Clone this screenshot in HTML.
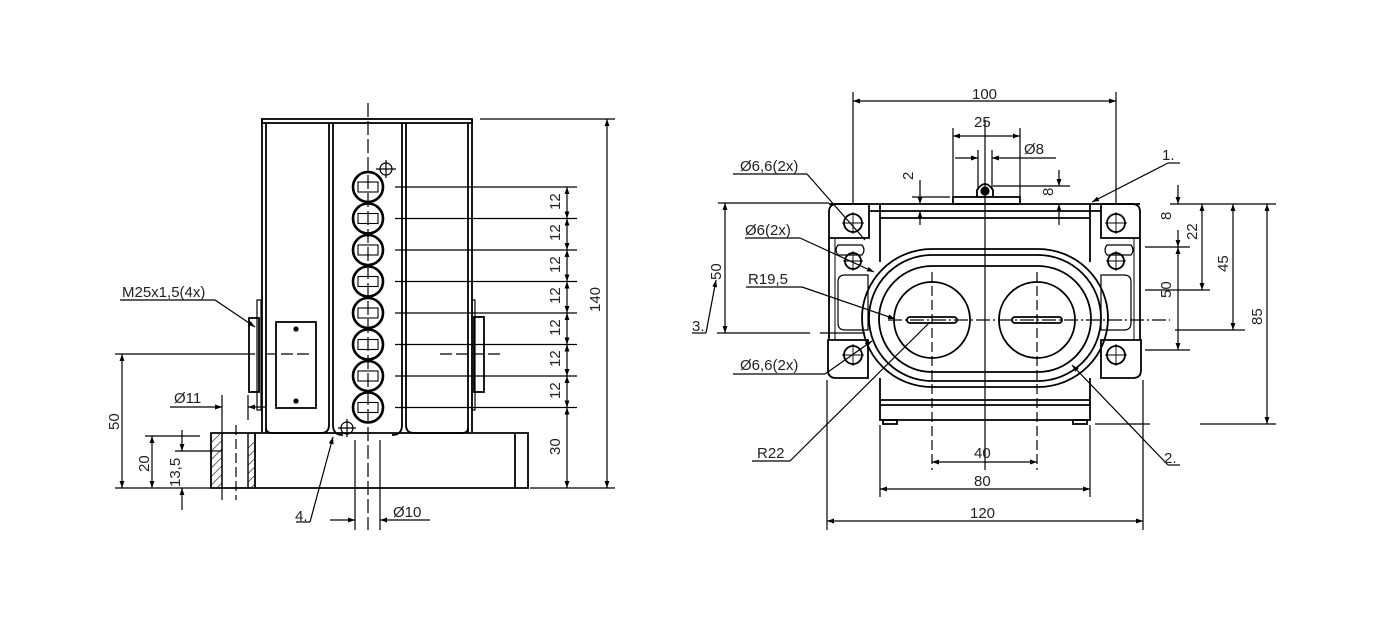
<!DOCTYPE html>
<html><head><meta charset="utf-8"><style>
html,body{margin:0;padding:0;background:#fff}
svg{display:block}
text{font-family:"Liberation Sans","DejaVu Sans",sans-serif;font-size:15px;fill:#222}
</style></head><body>
<svg width="1380" height="631" viewBox="0 0 1380 631" xmlns="http://www.w3.org/2000/svg">
<defs>
<marker id="a" viewBox="0 0 10 10" refX="10" refY="5" markerWidth="9" markerHeight="7" orient="auto-start-reverse" markerUnits="userSpaceOnUse"><path d="M0,1.5 L10,5 L0,8.5z" fill="#000"/></marker>
<pattern id="h" width="6" height="6" patternUnits="userSpaceOnUse" patternTransform="rotate(45)"><line x1="0" y1="0" x2="0" y2="6" stroke="#000" stroke-width="1.2"/></pattern>
</defs>
<g fill="none" stroke="#000" stroke-width="1.2">

<!-- ============ LEFT VIEW ============ -->
<g stroke-width="1.8">
<rect x="262" y="119" width="210" height="4"/>
<line x1="262" y1="119" x2="262" y2="432"/><line x1="472" y1="119" x2="472" y2="432"/>
<line x1="266" y1="123" x2="266" y2="432"/><line x1="468" y1="123" x2="468" y2="432"/>
<line x1="329" y1="123" x2="329" y2="425"/><line x1="333" y1="123" x2="333" y2="425"/>
<line x1="402" y1="123" x2="402" y2="425"/><line x1="406" y1="123" x2="406" y2="425"/>
<path d="M329 425 Q329 433 321 433 L272 433 Q266 433 266 428"/>
<path d="M406 425 Q406 433 414 433 L462 433 Q468 433 468 428"/>
<path d="M333 425 Q333 435 343 435"/>
<path d="M402 425 Q402 435 392 435"/>
<path d="M211 433 L528 433 L528 488 L211 488 Z"/>
<line x1="515" y1="433" x2="515" y2="488"/>
<line x1="255" y1="433" x2="255" y2="488"/>
</g>
<rect x="212" y="434" width="10" height="53" fill="url(#h)" stroke="none"/>
<rect x="248" y="440" width="6" height="47" fill="url(#h)" stroke="none"/>
<line x1="222" y1="433" x2="222" y2="488" stroke-width="1.4"/>
<line x1="248" y1="433" x2="248" y2="488" stroke-width="1.4"/>
<line x1="211" y1="451" x2="222" y2="451"/>
<rect x="249" y="318" width="10" height="74" stroke-width="1.8"/>
<rect x="257" y="300" width="4" height="110" stroke-width="1.2"/>
<rect x="474" y="317" width="10" height="75" stroke-width="1.8"/>
<rect x="472" y="300" width="3" height="110" stroke-width="1.2"/>
<rect x="276" y="322" width="40" height="86" stroke-width="1.8"/>
<circle cx="296" cy="329" r="2" fill="#000"/><circle cx="296" cy="401" r="2" fill="#000"/>
<line x1="115" y1="354" x2="255" y2="354"/>
<line x1="265" y1="354" x2="310" y2="354" stroke-dasharray="12,4"/>
<line x1="440" y1="354" x2="500" y2="354" stroke-dasharray="12,4"/>
<line x1="368" y1="103" x2="368" y2="530" stroke-dasharray="14,4"/>
<g stroke-width="2.6">
<circle cx="368" cy="187" r="15"/><circle cx="368" cy="218.5" r="15"/><circle cx="368" cy="250" r="15"/><circle cx="368" cy="281.5" r="15"/>
<circle cx="368" cy="313" r="15"/><circle cx="368" cy="344.5" r="15"/><circle cx="368" cy="376" r="15"/><circle cx="368" cy="407.5" r="15"/>
</g>
<g stroke-width="1.1">
<rect x="358" y="182" width="20" height="10"/><rect x="358" y="213.5" width="20" height="10"/><rect x="358" y="245" width="20" height="10"/><rect x="358" y="276.5" width="20" height="10"/>
<rect x="358" y="308" width="20" height="10"/><rect x="358" y="339.5" width="20" height="10"/><rect x="358" y="371" width="20" height="10"/><rect x="358" y="402.5" width="20" height="10"/>
</g>
<circle cx="386" cy="169" r="6"/><line x1="376" y1="169" x2="396" y2="169"/><line x1="386" y1="160" x2="386" y2="178"/>
<circle cx="347" cy="428" r="6"/><line x1="338" y1="428" x2="356" y2="428"/><line x1="347" y1="419" x2="347" y2="437"/>
<g>
<line x1="395" y1="187" x2="577" y2="187"/><line x1="395" y1="218.5" x2="577" y2="218.5"/><line x1="395" y1="250" x2="577" y2="250"/><line x1="395" y1="281.5" x2="577" y2="281.5"/>
<line x1="395" y1="313" x2="577" y2="313"/><line x1="395" y1="344.5" x2="577" y2="344.5"/><line x1="395" y1="376" x2="577" y2="376"/><line x1="395" y1="407.5" x2="577" y2="407.5"/>
<line x1="530" y1="488" x2="615" y2="488"/><line x1="480" y1="119" x2="615" y2="119"/>
<line x1="567" y1="187" x2="567" y2="218.5" marker-start="url(#a)" marker-end="url(#a)"/>
<line x1="567" y1="218.5" x2="567" y2="250" marker-start="url(#a)" marker-end="url(#a)"/>
<line x1="567" y1="250" x2="567" y2="281.5" marker-start="url(#a)" marker-end="url(#a)"/>
<line x1="567" y1="281.5" x2="567" y2="313" marker-start="url(#a)" marker-end="url(#a)"/>
<line x1="567" y1="313" x2="567" y2="344.5" marker-start="url(#a)" marker-end="url(#a)"/>
<line x1="567" y1="344.5" x2="567" y2="376" marker-start="url(#a)" marker-end="url(#a)"/>
<line x1="567" y1="376" x2="567" y2="407.5" marker-start="url(#a)" marker-end="url(#a)"/>
<line x1="567" y1="407.5" x2="567" y2="488" marker-start="url(#a)" marker-end="url(#a)"/>
<line x1="607" y1="119" x2="607" y2="488" marker-start="url(#a)" marker-end="url(#a)"/>
<line x1="115" y1="488" x2="210" y2="488"/>
<line x1="122" y1="354" x2="122" y2="488" marker-start="url(#a)" marker-end="url(#a)"/>
<line x1="145" y1="436" x2="200" y2="436"/>
<line x1="152" y1="436" x2="152" y2="488" marker-start="url(#a)" marker-end="url(#a)"/>
<line x1="175" y1="451" x2="211" y2="451"/>
<line x1="182" y1="430" x2="182" y2="451" marker-end="url(#a)"/>
<line x1="182" y1="510" x2="182" y2="488" marker-end="url(#a)"/>
<line x1="222" y1="395" x2="222" y2="500"/><line x1="248" y1="395" x2="248" y2="420"/>
<line x1="236" y1="425" x2="236" y2="500" stroke-dasharray="10,4"/>
<line x1="170" y1="407" x2="222" y2="407" marker-end="url(#a)"/>
<line x1="265" y1="407" x2="248" y2="407" marker-end="url(#a)"/>
<line x1="120" y1="300" x2="215" y2="300"/><line x1="215" y1="300" x2="255" y2="327" marker-end="url(#a)"/>
<line x1="355" y1="440" x2="355" y2="530"/><line x1="380" y1="440" x2="380" y2="530"/>
<line x1="330" y1="520" x2="355" y2="520" marker-end="url(#a)"/>
<line x1="430" y1="520" x2="380" y2="520" marker-end="url(#a)"/>
<line x1="296" y1="522" x2="310" y2="522"/><line x1="310" y1="522" x2="333" y2="437" marker-end="url(#a)"/>
</g>
</g>
<g>
<text transform="translate(560,210) rotate(-90)">12</text>
<text transform="translate(560,241) rotate(-90)">12</text>
<text transform="translate(560,273) rotate(-90)">12</text>
<text transform="translate(560,304) rotate(-90)">12</text>
<text transform="translate(560,336) rotate(-90)">12</text>
<text transform="translate(560,367) rotate(-90)">12</text>
<text transform="translate(560,399) rotate(-90)">12</text>
<text transform="translate(560,455) rotate(-90)">30</text>
<text transform="translate(600,312) rotate(-90)">140</text>
<text transform="translate(119,430) rotate(-90)">50</text>
<text transform="translate(149,472) rotate(-90)">20</text>
<text transform="translate(180,487) rotate(-90)">13,5</text>
<text x="122" y="297">M25x1,5(4x)</text>
<text x="174" y="403">Ø11</text>
<text x="295" y="521">4.</text>
<text x="393" y="517">Ø10</text>
</g>

<!-- ============ RIGHT VIEW ============ -->
<g fill="none" stroke="#000" stroke-width="1.2">
<g stroke-width="1.8">
<line x1="829" y1="204" x2="1140" y2="204"/>
<path d="M869 204 L837 204 Q829 204 829 212 L829 238 L869 238 Z"/>
<path d="M1101 204 L1132 204 Q1140 204 1140 212 L1140 238 L1101 238 Z"/>
<path d="M868 340 L828 340 L828 370 Q828 378 836 378 L868 378 Z"/>
<path d="M1101 340 L1141 340 L1141 370 Q1141 378 1133 378 L1101 378 Z"/>
<line x1="829" y1="238" x2="829" y2="340"/><line x1="1140" y1="238" x2="1140" y2="340"/>
<line x1="835" y1="238" x2="835" y2="340" stroke-width="1"/><line x1="1134" y1="238" x2="1134" y2="340" stroke-width="1"/>
<line x1="880" y1="204" x2="880" y2="262"/><line x1="1090" y1="204" x2="1090" y2="262"/>
<line x1="869" y1="211" x2="1101" y2="211"/><line x1="880" y1="218" x2="1090" y2="218"/>
<path d="M932 249 L1038 249 A70 69 0 0 1 1038 387 L932 387 A70 69 0 0 1 932 249 Z"/>
<path d="M932 255 L1038 255 A63 63 0 0 1 1038 381 L932 381 A63 63 0 0 1 932 255 Z"/>
<path d="M932 266 L1038 266 A53 53 0 0 1 1038 372 L932 372 A53 53 0 0 1 932 266 Z"/>
<circle cx="932" cy="320" r="38"/><circle cx="1037" cy="320" r="38"/>
<rect x="907" y="317" width="50" height="6" rx="3"/><rect x="1012" y="317" width="50" height="6" rx="3"/>
<path d="M880 378 L880 420 L1090 420 L1090 378"/>
<line x1="880" y1="400" x2="1090" y2="400"/><line x1="880" y1="405" x2="1090" y2="405"/>
<rect x="883" y="420" width="14" height="4"/><rect x="1073" y="420" width="14" height="4"/>
<rect x="953" y="197" width="67" height="7"/>
<path d="M977 197 L977 190 Q985 178 993 190 L993 197"/>
</g>
<circle cx="985" cy="191" r="4" fill="#000"/>
<path d="M838 245 L862 245 Q866 250 862 255 L838 255 Q834 250 838 245Z"/>
<path d="M1107 245 L1131 245 Q1135 250 1131 255 L1107 255 Q1103 250 1107 245Z"/>
<path d="M845 275 L868 275 L868 330 L845 330 Q838 330 838 323 L838 282 Q838 275 845 275Z"/>
<path d="M1124 275 L1101 275 L1101 330 L1124 330 Q1131 330 1131 323 L1131 282 Q1131 275 1124 275Z"/>
<g stroke-width="1.8">
<circle cx="853" cy="223" r="9"/><circle cx="853" cy="261" r="8"/><circle cx="853" cy="355" r="9"/>
<circle cx="1116" cy="223" r="9"/><circle cx="1116" cy="261" r="8"/><circle cx="1116" cy="355" r="9"/>
</g>
<g stroke-width="0.9">
<line x1="842" y1="223" x2="864" y2="223"/><line x1="853" y1="212" x2="853" y2="234"/>
<line x1="843" y1="261" x2="863" y2="261"/><line x1="853" y1="251" x2="853" y2="271"/>
<line x1="842" y1="355" x2="864" y2="355"/><line x1="853" y1="344" x2="853" y2="366"/>
<line x1="1105" y1="223" x2="1127" y2="223"/><line x1="1116" y1="212" x2="1116" y2="234"/>
<line x1="1106" y1="261" x2="1126" y2="261"/><line x1="1116" y1="251" x2="1116" y2="271"/>
<line x1="1105" y1="355" x2="1127" y2="355"/><line x1="1116" y1="344" x2="1116" y2="366"/>
</g>
<line x1="985" y1="120" x2="985" y2="470"/>
<line x1="932" y1="272" x2="932" y2="470" stroke-dasharray="10,4"/>
<line x1="1037" y1="272" x2="1037" y2="470" stroke-dasharray="10,4"/>
<line x1="888" y1="320" x2="1170" y2="320" stroke-dasharray="14,3,2,3"/>
<line x1="853" y1="92" x2="853" y2="204"/><line x1="1116" y1="92" x2="1116" y2="204"/>
<line x1="853" y1="101" x2="1116" y2="101" marker-start="url(#a)" marker-end="url(#a)"/>
<line x1="953" y1="128" x2="953" y2="197"/><line x1="1020" y1="128" x2="1020" y2="197"/>
<line x1="953" y1="136" x2="1020" y2="136" marker-start="url(#a)" marker-end="url(#a)"/>
<line x1="978" y1="150" x2="978" y2="190"/><line x1="992" y1="150" x2="992" y2="190"/>
<line x1="955" y1="158" x2="978" y2="158" marker-end="url(#a)"/>
<line x1="1056" y1="158" x2="992" y2="158" marker-end="url(#a)"/>
<line x1="993" y1="186" x2="1070" y2="186"/>
<line x1="1059" y1="170" x2="1059" y2="186" marker-end="url(#a)"/>
<line x1="1059" y1="225" x2="1059" y2="204" marker-end="url(#a)"/>
<line x1="912" y1="197" x2="950" y2="197"/>
<line x1="920" y1="180" x2="920" y2="204" marker-end="url(#a)"/>
<line x1="920" y1="225" x2="920" y2="211" marker-end="url(#a)"/>
<line x1="1170" y1="204" x2="1276" y2="204"/>
<line x1="1145" y1="247" x2="1190" y2="247"/>
<line x1="1145" y1="290" x2="1210" y2="290"/>
<line x1="1175" y1="330" x2="1245" y2="330"/>
<line x1="1145" y1="350" x2="1190" y2="350"/>
<line x1="1200" y1="424" x2="1276" y2="424"/><line x1="1095" y1="424" x2="1150" y2="424"/>
<line x1="1178" y1="185" x2="1178" y2="204" marker-end="url(#a)"/>
<line x1="1178" y1="230" x2="1178" y2="247" marker-end="url(#a)"/>
<line x1="1178" y1="247" x2="1178" y2="350" marker-start="url(#a)" marker-end="url(#a)"/>
<line x1="1202" y1="204" x2="1202" y2="290" marker-start="url(#a)" marker-end="url(#a)"/>
<line x1="1233" y1="204" x2="1233" y2="330" marker-start="url(#a)" marker-end="url(#a)"/>
<line x1="1267" y1="204" x2="1267" y2="424" marker-start="url(#a)" marker-end="url(#a)"/>
<line x1="718" y1="203" x2="829" y2="203"/>
<line x1="717" y1="333" x2="810" y2="333"/><line x1="820" y1="333" x2="865" y2="333"/>
<line x1="725" y1="203" x2="725" y2="333" marker-start="url(#a)" marker-end="url(#a)"/>
<line x1="692" y1="333" x2="706" y2="333"/><line x1="706" y1="333" x2="716" y2="280" marker-end="url(#a)"/>
<line x1="827" y1="380" x2="827" y2="530"/><line x1="1143" y1="380" x2="1143" y2="530"/>
<line x1="880" y1="425" x2="880" y2="497"/><line x1="1090" y1="425" x2="1090" y2="497"/>
<line x1="932" y1="462" x2="1037" y2="462" marker-start="url(#a)" marker-end="url(#a)"/>
<line x1="880" y1="489" x2="1090" y2="489" marker-start="url(#a)" marker-end="url(#a)"/>
<line x1="827" y1="521" x2="1143" y2="521" marker-start="url(#a)" marker-end="url(#a)"/>
<line x1="733" y1="174" x2="807" y2="174"/><line x1="807" y1="174" x2="865" y2="240"/>
<line x1="745" y1="238" x2="800" y2="238"/><line x1="800" y1="238" x2="874" y2="272" marker-end="url(#a)"/>
<line x1="746" y1="287" x2="802" y2="287"/><line x1="802" y1="287" x2="895" y2="319" marker-end="url(#a)"/>
<line x1="733" y1="374" x2="825" y2="374"/><line x1="825" y1="374" x2="872" y2="341" marker-end="url(#a)"/>
<line x1="752" y1="461" x2="790" y2="461"/><line x1="790" y1="461" x2="930" y2="322"/>
<line x1="1168" y1="163" x2="1180" y2="163"/><line x1="1168" y1="163" x2="1092" y2="202" marker-end="url(#a)"/>
<line x1="1168" y1="465" x2="1180" y2="465"/><line x1="1168" y1="465" x2="1072" y2="365" marker-end="url(#a)"/>
</g>
<g>
<text x="972" y="99">100</text>
<text x="974" y="127">25</text>
<text x="1024" y="154">Ø8</text>
<text transform="translate(913,180) rotate(-90)">2</text>
<text transform="translate(1053,196) rotate(-90)">8</text>
<text x="1162" y="160">1.</text>
<text x="740" y="171">Ø6,6(2x)</text>
<text x="745" y="235">Ø6(2x)</text>
<text x="748" y="284">R19,5</text>
<text x="740" y="370">Ø6,6(2x)</text>
<text x="757" y="458">R22</text>
<text x="692" y="331">3.</text>
<text transform="translate(721,280) rotate(-90)">50</text>
<text x="1164" y="463">2.</text>
<text transform="translate(1171,220) rotate(-90)">8</text>
<text transform="translate(1197,240) rotate(-90)">22</text>
<text transform="translate(1228,272) rotate(-90)">45</text>
<text transform="translate(1171,298) rotate(-90)">50</text>
<text transform="translate(1262,325) rotate(-90)">85</text>
<text x="974" y="458">40</text>
<text x="974" y="486">80</text>
<text x="970" y="518">120</text>
</g>
</svg>
</body></html>
